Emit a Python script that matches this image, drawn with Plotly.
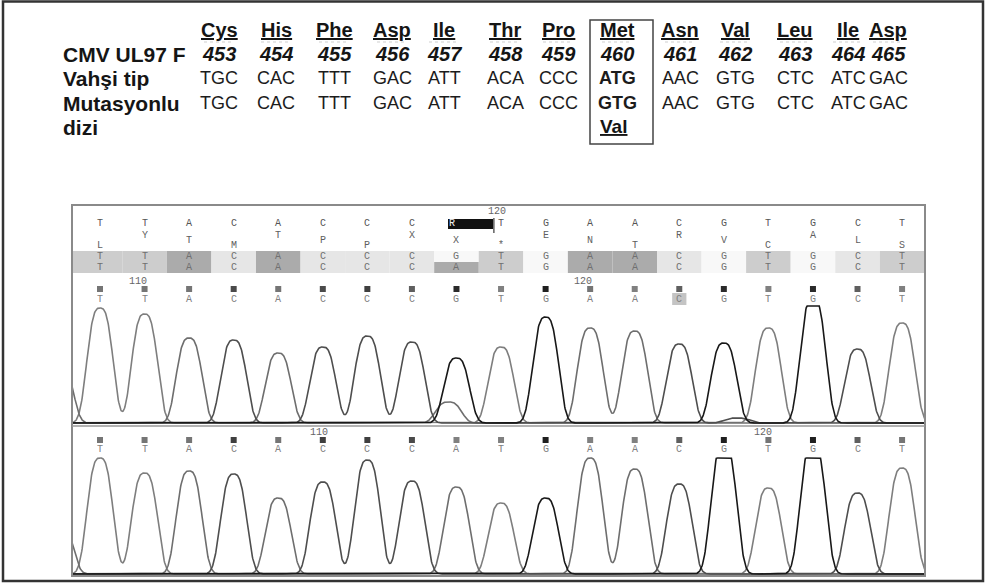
import numpy as np
import plotly.graph_objects as go

W, H = 986, 583

# ---------------- sequence table data ----------------
AMINO = ['Cys', 'His', 'Phe', 'Asp', 'Ile', 'Thr', 'Pro', 'Met', 'Asn', 'Val', 'Leu', 'Ile', 'Asp']
CODON_NO = ['453', '454', '455', '456', '457', '458', '459', '460', '461', '462', '463', '464', '465']
WILD = ['TGC', 'CAC', 'TTT', 'GAC', 'ATT', 'ACA', 'CCC', 'ATG', 'AAC', 'GTG', 'CTC', 'ATC', 'GAC']
MUTANT = ['TGC', 'CAC', 'TTT', 'GAC', 'ATT', 'ACA', 'CCC', 'GTG', 'AAC', 'GTG', 'CTC', 'ATC', 'GAC']
MUT_INDEX = 7
MUT_AA = 'Val'
ROW_LABELS = ['CMV UL97 F', 'Vahşi tip', 'Mutasyonlu', 'dizi']

# ---------------- chromatogram data ----------------
CALLS_TOP = list('TTACACCCRTGAACGTGCT')
FRAME_AA = list('LYTMTPPXX*ENTRVCALS')
ALIGN_A = list('TTACACCCGTGAACGTGCT')
ALIGN_B = list('TTACACCCATGAACGTGCT')
CALLS_1 = list('TTACACCCGTGAACGTGCT')
CALLS_2 = list('TTACACCCATGAACGTGCT')
# darkness of quality boxes (0 light .. 1 black)
QUAL_1 = [0.55, 0.55, 0.55, 0.75, 0.55, 0.75, 0.8, 0.65, 0.9, 0.5, 0.95, 0.55, 0.5, 0.65, 0.9, 0.5, 0.9, 0.65, 0.5]
QUAL_2 = [0.55, 0.55, 0.55, 0.8, 0.55, 0.8, 0.8, 0.75, 0.5, 0.5, 0.95, 0.5, 0.5, 0.65, 0.95, 0.55, 0.95, 0.65, 0.55]
PEAK_1 = [115, 109, 85, 83, 70, 76, 87, 81, 65, 76, 106, 95, 92, 79, 80, 95, 125, 74, 100]
PEAK_2 = [116, 101, 103, 100, 76, 92, 114, 93, 87, 71, 76, 116, 105, 90, 130, 86, 130, 81, 106]
MINOR_1 = [(-0.9, 'A', 60), (7.82, 'A', 21), (14.3, 'C', 5)]
MINOR_2 = [(-0.9, 'A', 50)]
NUM_TOP = [(8.9, '120')]
NUM_1 = [(0.85, '110'), (10.84, '120')]
NUM_2 = [(4.91, '110'), (14.88, '120')]

# ---------------- layout constants ----------------
COL_X = [219, 276, 334, 392, 444, 505, 558, 617, 680, 735, 795, 848, 888]
LABEL_Y = [54, 78, 103, 127.5]
X0_PX, STEP_PX = 100.0, 44.56
PANEL_L, PANEL_R, PANEL_T, PANEL_B = 72, 925, 205, 576
XR = [(PANEL_L - X0_PX) / STEP_PX, (PANEL_R - X0_PX) / STEP_PX]
PEAK_A = 15.5 / STEP_PX      # peak half-width scale (in base units)
BASE_COL = {'A': '#6e6e6e', 'C': '#4e4e4e', 'G': '#181818', 'T': '#7e7e7e'}
CELL_COL = {'A': '#ababab', 'C': '#e6e6e6', 'G': '#f8f8f8', 'T': '#cdcdcd'}
SANS = 'Liberation Sans, Arial, sans-serif'
MONO = 'Liberation Mono, Courier New, monospace'
MS = 10  # mono text size

fig = go.Figure()


def pyd(py):
    return 1 - py / H


# chromatogram traces
xs = np.linspace(-1.3, 19.3, 2061)


def bump(center, h):
    return h * np.exp(-np.abs((xs - center) / PEAK_A) ** 3)


def add_panel(calls, heights, minors, yaxis, clip):
    for base in ['T', 'A', 'C', 'G']:
        y = np.zeros_like(xs)
        for i, (b, h) in enumerate(zip(calls, heights)):
            if b == base:
                y += bump(i, h)
        for p, b, h in minors:
            if b == base:
                y += bump(p, h)
        y = np.minimum(y, clip)
        fig.add_trace(go.Scatter(x=xs, y=y, xaxis='x2', yaxis=yaxis, mode='lines',
                                 line=dict(color=BASE_COL[base], width=1.6),
                                 hoverinfo='skip', showlegend=False))


add_panel(CALLS_1, PEAK_1, MINOR_1, 'y2', 117)
add_panel(CALLS_2, PEAK_2, MINOR_2, 'y3', 116)

# quality boxes
idx = list(range(len(CALLS_1)))


def gray(d):
    v = int(round(235 - 215 * d))
    return f'rgb({v},{v},{v})'


for qual, py in [(QUAL_1, 289), (QUAL_2, 440)]:
    fig.add_trace(go.Scatter(x=idx, y=[py] * len(idx), xaxis='x2', yaxis='y', mode='markers',
                             marker=dict(symbol='square', size=6, color=[gray(q) for q in qual],
                                         line=dict(width=0)),
                             hoverinfo='skip', showlegend=False))

shapes = []
ann = []


def txt(x, y, s, size, color='#222', family=SANS, xref='x', xanchor='center'):
    ann.append(dict(x=x, y=y, xref=xref, yref='y', text=s, showarrow=False,
                    font=dict(size=size, color=color, family=family),
                    xanchor=xanchor, yanchor='middle', borderpad=0))


# ---------------- table ----------------
for lab, py in zip(ROW_LABELS, LABEL_Y):
    txt(62, py, f'<b>{lab}</b>', 21, '#151515', xanchor='left')
for i, cx in enumerate(COL_X):
    txt(cx, 30, f'<b><u>{AMINO[i]}</u></b>', 20, '#151515')
    txt(cx, 54, f'<b><i>{CODON_NO[i]}</i></b>', 20, '#151515')
    w = f'<b>{WILD[i]}</b>' if i == MUT_INDEX else WILD[i]
    m = f'<b>{MUTANT[i]}</b>' if i == MUT_INDEX else MUTANT[i]
    txt(cx, 78, w, 18, '#1c1c1c')
    txt(cx, 103, m, 18, '#1c1c1c')
    shapes.append(dict(type='line', xref='x', yref='y', x0=cx - 15, x1=cx + 15, y0=42, y1=42,
                       line=dict(color='#cfcfcf', width=1, dash='dot')))
txt(COL_X[MUT_INDEX] - 4, 126.5, f'<b><u>{MUT_AA}</u></b>', 19, '#151515')
shapes.append(dict(type='rect', xref='x', yref='y', x0=590, x1=653, y0=20, y1=144,
                   line=dict(color='#444', width=1.5)))

# ---------------- chromatogram header ----------------
for i in idx:
    xa = XR[0] if i == 0 else i - 0.5
    xb = XR[1] if i == len(idx) - 1 else i + 0.5
    shapes.append(dict(type='rect', xref='x2', yref='y', x0=xa, x1=xb, y0=251, y1=262,
                       fillcolor=CELL_COL[ALIGN_A[i]], line=dict(width=0), layer='below'))
    shapes.append(dict(type='rect', xref='x2', yref='y', x0=xa, x1=xb, y0=262, y1=273,
                       fillcolor=CELL_COL[ALIGN_B[i]], line=dict(width=0), layer='below'))

# R highlight and cursor
shapes.append(dict(type='rect', xref='x2', yref='y', x0=7.81, x1=8.82, y0=219, y1=229,
                   fillcolor='#111', line=dict(width=0)))
shapes.append(dict(type='line', xref='x2', yref='y', x0=8.84, x1=8.84, y0=218, y1=233,
                   line=dict(color='#111', width=1)))
# highlighted call in panel 1
shapes.append(dict(type='rect', xref='x2', yref='y', x0=12.84, x1=13.16, y0=293, y1=305,
                   fillcolor='#c4c4c4', line=dict(width=0), layer='below'))

for i in idx:
    c = CALLS_TOP[i]
    if c == 'R':
        txt(i - 0.1, 223.5, c, MS, '#f0f0f0', MONO, 'x2')
    else:
        txt(i, 223.5, c, MS, '#555', MONO, 'x2')
    fy = {1: 235, 2: 240.5, 0: 245}[i % 3]
    txt(i, fy, FRAME_AA[i], MS, '#606060', MONO, 'x2')
    txt(i, 256.5, ALIGN_A[i], MS, '#707070', MONO, 'x2')
    txt(i, 267.5, ALIGN_B[i], MS, '#707070', MONO, 'x2')
    txt(i, 299, CALLS_1[i], MS, '#808080', MONO, 'x2')
    txt(i, 449, CALLS_2[i], MS, '#808080', MONO, 'x2')

for lst, py in [(NUM_TOP, 211.5), (NUM_1, 281), (NUM_2, 432)]:
    for p, s in lst:
        txt(p, py, s, MS, '#666', MONO, 'x2')

# panel frame and divider
shapes.append(dict(type='rect', xref='x', yref='y', x0=PANEL_L, x1=PANEL_R, y0=PANEL_T, y1=PANEL_B,
                   line=dict(color='#8a8a8a', width=2)))
shapes.append(dict(type='line', xref='x', yref='y', x0=PANEL_L, x1=PANEL_R, y0=426, y1=426,
                   line=dict(color='#9a9a9a', width=1.5)))
# outer frame
shapes.append(dict(type='rect', xref='x', yref='y', x0=3, x1=983, y0=1.5, y1=581,
                   line=dict(color='#333', width=2.5)))

hidden = dict(visible=False, showgrid=False, zeroline=False, fixedrange=True)
fig.update_layout(
    width=W, height=H, margin=dict(l=0, r=0, t=0, b=0),
    paper_bgcolor='white', plot_bgcolor='rgba(0,0,0,0)',
    showlegend=False,
    xaxis=dict(range=[0, W], domain=[0, 1], **hidden),
    yaxis=dict(range=[H, 0], domain=[0, 1], **hidden),
    xaxis2=dict(range=XR, domain=[PANEL_L / W, PANEL_R / W], anchor='y2', **hidden),
    yaxis2=dict(range=[-2, 118], domain=[pyd(425), pyd(305)], anchor='x2', **hidden),
    yaxis3=dict(range=[-2, 117], domain=[pyd(576), pyd(457)], anchor='x2', **hidden),
    shapes=shapes, annotations=ann,
)

fig.write_html('out.html', config={'displayModeBar': False},
               post_script="document.body.style.margin='0';document.body.style.overflow='hidden';")
